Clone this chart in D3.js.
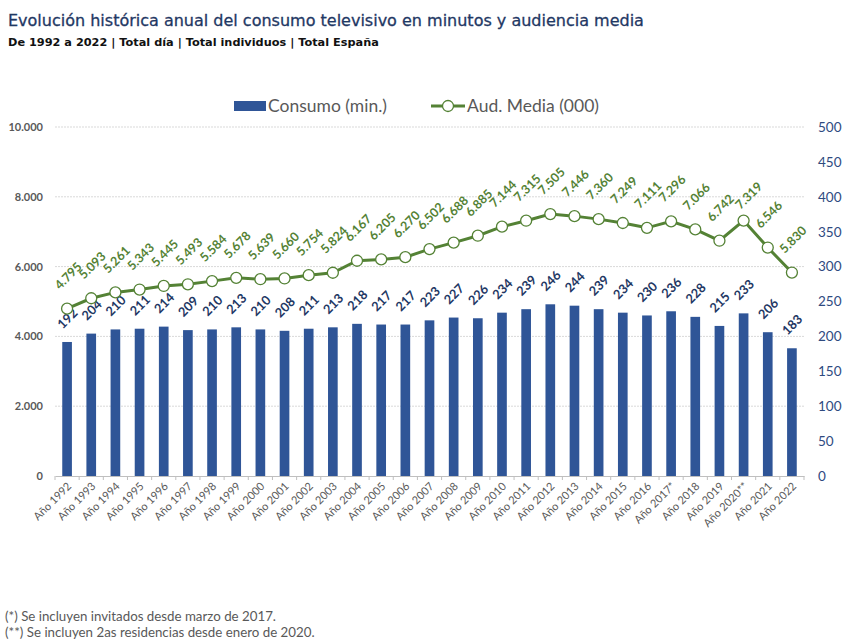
<!DOCTYPE html>
<html>
<head>
<meta charset="utf-8">
<script src="https://cdn.jsdelivr.net/npm/d3@7"></script>
<style>
  body { margin: 0; background: #fff; }
  svg { display: block; }
</style>
</head>
<body>
<svg></svg>
<script>
const width = 844
const height = 642

const years = ['Año 1992', 'Año 1993', 'Año 1994', 'Año 1995', 'Año 1996', 'Año 1997', 'Año 1998', 'Año 1999',
	'Año 2000', 'Año 2001', 'Año 2002', 'Año 2003', 'Año 2004', 'Año 2005', 'Año 2006', 'Año 2007', 'Año 2008',
	'Año 2009', 'Año 2010', 'Año 2011', 'Año 2012', 'Año 2013', 'Año 2014', 'Año 2015', 'Año 2016', 'Año 2017*',
	'Año 2018', 'Año 2019', 'Año 2020**', 'Año 2021', 'Año 2022']
const consumo = [192, 204, 210, 211, 214, 209, 210, 213, 210, 208, 211, 213, 218, 217, 217, 223, 227, 226, 234,
	239, 246, 244, 239, 234, 230, 236, 228, 215, 233, 206, 183]
const audiencia = [4795, 5093, 5261, 5343, 5445, 5493, 5584, 5678, 5639, 5660, 5754, 5824, 6167, 6205, 6270, 6502,
	6688, 6885, 7144, 7315, 7505, 7446, 7360, 7249, 7111, 7296, 7066, 6742, 7319, 6546, 5830]
const leftTicks = [0, 2000, 4000, 6000, 8000, 10000]
const rightTicks = [0, 50, 100, 150, 200, 250, 300, 350, 400, 450, 500]

const blue = '#2f5597'
const green = '#548235'
const gray = '#595959'
const navy = '#1f3864'
const labelFont = 'Lato, "Open Sans", sans-serif'

const locale = d3.formatLocale({ decimal: ',', thousands: '.', grouping: [3], currency: ['', '€'] })
const fmt = locale.format(',d')

const svg = d3.select('svg')
	.attr('width', width)
	.attr('height', height)

const x = d3.scaleBand().domain(years).range([55, 804]).paddingInner(0.6).paddingOuter(0.3)
const xc = d => x(d) + x.bandwidth() / 2
const yL = d3.scaleLinear().domain([0, 10000]).range([476, 127])
const yR = d3.scaleLinear().domain([0, 500]).range([476, 127])

// titles
svg.append('text')
	.attr('x', 8).attr('y', 26)
	.attr('font-family', '"DejaVu Sans", Verdana, sans-serif')
	.attr('font-size', 16)
	.attr('fill', navy)
	.attr('stroke', navy)
	.attr('stroke-width', 0.3)
	.text('Evolución histórica anual del consumo televisivo en minutos y audiencia media')
svg.append('text')
	.attr('x', 8).attr('y', 46)
	.attr('font-family', '"DejaVu Sans", Verdana, sans-serif')
	.attr('font-size', 11.3)
	.attr('font-weight', 'bold')
	.attr('fill', '#111')
	.text('De 1992 a 2022 | Total día | Total individuos | Total España')

// grid
svg.append('g')
	.selectAll('line')
	.data(leftTicks.filter(d => d > 0))
	.enter()
	.append('line')
	.attr('x1', 55).attr('x2', 805)
	.attr('y1', d => yL(d)).attr('y2', d => yL(d))
	.attr('stroke', '#d9d9d9')
	.attr('stroke-dasharray', '2,1')

// left axis
const axL = svg.append('g')
	.attr('transform', 'translate(55,0)')
	.call(d3.axisLeft(yL).tickValues(leftTicks).tickFormat(fmt).tickSize(0).tickPadding(12))
axL.select('.domain').remove()
axL.selectAll('text')
	.attr('font-family', labelFont)
	.attr('font-size', 11)
	.attr('font-weight', 'bold')
	.attr('fill', gray)

// right axis
const axR = svg.append('g')
	.attr('transform', 'translate(805,0)')
	.call(d3.axisRight(yR).tickValues(rightTicks).tickSize(0).tickPadding(13))
axR.select('.domain').remove()
axR.selectAll('text')
	.attr('font-family', labelFont)
	.attr('font-size', 13.5)
	.attr('fill', '#2f4a7f')

// x axis
const axX = svg.append('g')
	.attr('transform', 'translate(0,476)')
	.call(d3.axisBottom(x).tickSize(0).tickFormat(''))
axX.select('.domain').attr('stroke', '#bfbfbf')
const step = x.step()
axX.selectAll('line.tk')
	.data(d3.range(years.length + 1))
	.enter()
	.append('line')
	.attr('class', 'tk')
	.attr('x1', i => x(years[0]) - (step - x.bandwidth()) / 2 + i * step)
	.attr('x2', i => x(years[0]) - (step - x.bandwidth()) / 2 + i * step)
	.attr('y1', 0).attr('y2', 4)
	.attr('stroke', '#bfbfbf')

svg.append('g')
	.selectAll('text')
	.data(years)
	.enter()
	.append('text')
	.attr('transform', d => 'translate(' + (xc(d) + 5) + ',487) rotate(-45)')
	.attr('text-anchor', 'end')
	.attr('font-family', labelFont)
	.attr('font-size', 11)
	.attr('fill', gray)
	.text(d => d)

// bars
svg.append('g')
	.selectAll('rect')
	.data(consumo)
	.enter()
	.append('rect')
	.attr('x', (d, i) => x(years[i]))
	.attr('width', x.bandwidth())
	.attr('y', d => yR(d))
	.attr('height', d => yR(0) - yR(d))
	.attr('fill', blue)

svg.append('g')
	.selectAll('text')
	.data(consumo)
	.enter()
	.append('text')
	.attr('transform', (d, i) => 'translate(' + xc(years[i]) + ',' + (yR(d) - 24) + ') rotate(-45)')
	.attr('text-anchor', 'middle')
	.attr('dominant-baseline', 'central')
	.attr('font-family', labelFont)
	.attr('font-size', 12.8)
	.attr('font-weight', 'bold')
	.attr('fill', navy)
	.text(d => d)

// line
const line = d3.line()
	.x((d, i) => xc(years[i]))
	.y(d => yL(d))
svg.append('path')
	.datum(audiencia)
	.attr('d', line)
	.attr('fill', 'none')
	.attr('stroke', green)
	.attr('stroke-width', 3)

svg.append('g')
	.selectAll('circle')
	.data(audiencia)
	.enter()
	.append('circle')
	.attr('cx', (d, i) => xc(years[i]))
	.attr('cy', d => yL(d))
	.attr('r', 5.5)
	.attr('fill', '#fff')
	.attr('stroke', green)
	.attr('stroke-width', 1.3)

// the 2020 label sits lower and to the right, as in the original
const nudge = { 'Año 2020**': [5, 8] }
svg.append('g')
	.selectAll('text')
	.data(audiencia)
	.enter()
	.append('text')
	.attr('transform', (d, i) => {
		const n = nudge[years[i]] || [1, 0]
		return 'translate(' + (xc(years[i]) + n[0]) + ',' + (yL(d) - 33 + n[1]) + ') rotate(-45)'
	})
	.attr('text-anchor', 'middle')
	.attr('dominant-baseline', 'central')
	.attr('font-family', labelFont)
	.attr('font-size', 12.5)
	.attr('font-weight', 'bold')
	.attr('fill', green)
	.text(d => fmt(d))

// legend
const lg = svg.append('g')
lg.append('rect')
	.attr('x', 234).attr('y', 101).attr('width', 32).attr('height', 10)
	.attr('fill', blue)
lg.append('text')
	.attr('x', 268).attr('y', 112)
	.attr('font-family', labelFont)
	.attr('font-size', 17.5)
	.attr('fill', gray)
	.text('Consumo (min.)')
lg.append('line')
	.attr('x1', 431).attr('x2', 465).attr('y1', 106).attr('y2', 106)
	.attr('stroke', green).attr('stroke-width', 3)
lg.append('circle')
	.attr('cx', 448).attr('cy', 106).attr('r', 5.5)
	.attr('fill', '#fff').attr('stroke', green).attr('stroke-width', 1.3)
lg.append('text')
	.attr('x', 467).attr('y', 112)
	.attr('font-family', labelFont)
	.attr('font-size', 17.5)
	.attr('fill', gray)
	.text('Aud. Media (000)')

// footnotes
const notes = ['(*) Se incluyen invitados desde marzo de 2017.', '(**) Se incluyen 2as residencias desde enero de 2020.']
svg.append('g')
	.selectAll('text')
	.data(notes)
	.enter()
	.append('text')
	.attr('x', 5)
	.attr('y', (d, i) => 621 + i * 16)
	.attr('font-family', labelFont)
	.attr('font-size', 13.3)
	.attr('fill', gray)
	.text(d => d)
</script>
</body>
</html>
